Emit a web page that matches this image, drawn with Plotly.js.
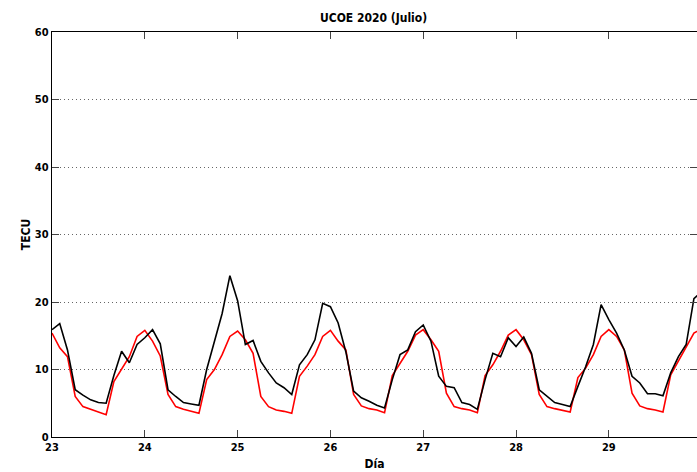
<!DOCTYPE html>
<html>
<head>
<meta charset="utf-8">
<script src="https://cdn.plot.ly/plotly-3.0.1.min.js"></script>
<style>html,body{margin:0;padding:0;background:#fff;}#chart{width:697px;height:472px;}</style>
</head>
<body>
<div id="chart"></div>
<script>
// 2-hour samples starting at day 23, 00:00
const startDay = 23;
const stepHours = 2;

const tecObserved = [
  15.9, 16.8, 12.9, 7.0, 6.2, 5.5, 5.1, 5.0, 9.1, 12.7, 11.0, 13.7,
  14.7, 15.9, 13.8, 7.0, 6.0, 5.1, 4.9, 4.7, 10.0, 14.2, 18.3, 23.9,
  20.2, 13.7, 14.3, 11.2, 9.5, 8.0, 7.3, 6.3, 10.7, 12.2, 14.4, 19.8,
  19.3, 16.9, 12.6, 6.8, 5.8, 5.3, 4.7, 4.3, 8.5, 12.2, 12.9, 15.6,
  16.6, 14.2, 9.0, 7.5, 7.3, 5.1, 4.8, 4.1, 8.5, 12.4, 11.9, 14.7,
  13.4, 14.8, 12.4, 7.0, 6.0, 5.1, 4.8, 4.5, 7.5, 10.4, 13.7, 19.6,
  17.4, 15.4, 12.9, 9.0, 8.0, 6.4, 6.4, 6.1, 9.5, 11.9, 13.7, 20.5,
  21.5
];

const tecModel = [
  15.4, 13.2, 11.9, 6.0, 4.5, 4.1, 3.8, 3.3, 8.2, 10.0, 11.9, 14.9,
  15.8, 14.2, 12.0, 6.3, 4.5, 4.1, 3.8, 3.5, 8.5, 10.0, 12.2, 14.9,
  15.7, 14.4, 12.4, 6.0, 4.5, 4.0, 3.8, 3.5, 9.0, 10.5, 12.2, 14.9,
  15.8, 14.2, 12.9, 6.3, 4.6, 4.2, 4.0, 3.6, 9.1, 11.0, 12.7, 15.1,
  15.9, 14.4, 12.7, 6.5, 4.5, 4.2, 4.0, 3.6, 9.1, 10.7, 12.7, 15.1,
  15.9, 14.4, 12.2, 6.3, 4.5, 4.2, 4.0, 3.7, 8.8, 10.2, 12.2, 14.9,
  15.9, 14.9, 12.9, 6.5, 4.6, 4.2, 4.0, 3.7, 9.2, 11.2, 13.2, 15.4,
  16.0
];

const xTickVals = [23, 24, 25, 26, 27, 28, 29, 30];
const xTickText = ['23', '24', '25', '26', '27', '28', '29', '30'];
const yTickVals = [0, 10, 20, 30, 40, 50, 60];

const timeDays = tecObserved.map((_, i) => startDay + i * stepHours / 24);

const FONT = '"DejaVu Sans Condensed", "Liberation Sans Narrow", "Liberation Sans", Arial, sans-serif';

const traces = [
  {
    x: timeDays, y: tecModel, type: 'scatter', mode: 'lines',
    line: {color: '#ff0000', width: 1.6}, name: 'Modelo', hoverinfo: 'x+y'
  },
  {
    x: timeDays, y: tecObserved, type: 'scatter', mode: 'lines',
    line: {color: '#000000', width: 1.6}, name: 'UCOE', hoverinfo: 'x+y'
  }
];

const layout = {
  width: 697, height: 472,
  margin: {l: 52, r: 0, t: 32, b: 35, pad: 0},
  paper_bgcolor: '#ffffff', plot_bgcolor: '#ffffff',
  showlegend: false,
  font: {family: FONT, size: 11, color: '#000', weight: 'bold'},
  title: {
    text: '<b>UCOE 2020 (Julio)</b>',
    font: {family: FONT, size: 12, color: '#000'},
    x: 0.536, xanchor: 'center', y: 0.963, yanchor: 'middle'
  },
  xaxis: {
    range: [23, 29.95], autorange: false,
    tickvals: xTickVals, ticktext: xTickText,
    ticks: 'inside', ticklen: 7, tickwidth: 1, tickcolor: '#444',
    showline: true, linecolor: '#000', linewidth: 1.2, mirror: 'ticks',
    showgrid: false, zeroline: false,
    tickfont: {family: FONT, size: 11, color: '#000', weight: 'bold'},
    title: {text: '<b>Día</b>', font: {family: FONT, size: 12, color: '#000'}, standoff: 6}
  },
  yaxis: {
    range: [0, 60], autorange: false,
    tickvals: yTickVals,
    ticks: 'inside', ticklen: 7, tickwidth: 1, tickcolor: '#444',
    showline: true, linecolor: '#000', linewidth: 1.2, mirror: 'ticks',
    showgrid: true, gridcolor: '#666', griddash: '1px,3px', gridwidth: 1,
    zeroline: false,
    tickfont: {family: FONT, size: 11, color: '#000', weight: 'bold'},
    title: {text: '<b>TECU</b>', font: {family: FONT, size: 12, color: '#000'}, standoff: 1}
  }
};

Plotly.newPlot('chart', traces, layout, {displayModeBar: false, staticPlot: true});
</script>
</body>
</html>
